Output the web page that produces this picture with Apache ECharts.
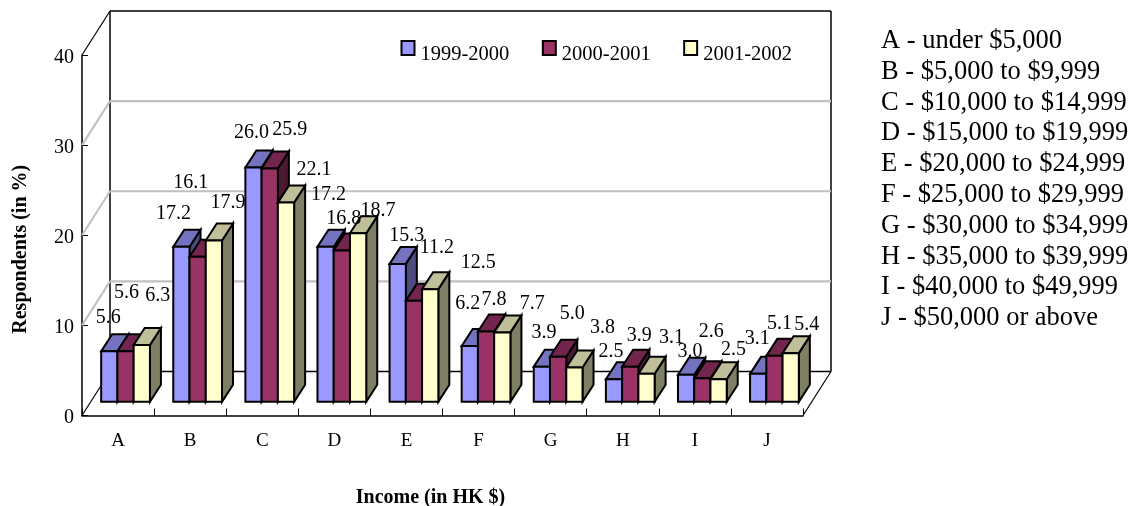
<!DOCTYPE html>
<html><head><meta charset="utf-8">
<style>html,body{margin:0;padding:0;background:#fff}#c{width:1139px;height:506px}</style>
<script src="https://cdn.jsdelivr.net/npm/echarts@6/dist/echarts.min.js"></script>
</head><body><div id="c"></div>
<script>
const categories = ['A','B','C','D','E','F','G','H','I','J'];
const seriesNames = ['1999-2000','2000-2001','2001-2002'];
const values1999 = [5.6,17.2,26.0,17.2,15.3,6.2,3.9,2.5,3.0,3.1];
const values2000 = [5.6,16.1,25.9,16.8,11.2,7.8,5.0,3.9,2.6,5.1];
const values2001 = [6.3,17.9,22.1,18.7,12.5,7.7,3.8,3.1,2.5,5.4];
const yTicks = [0,10,20,30,40];
const incomeKey = ['A - under $5,000','B - $5,000 to $9,999','C - $10,000 to $14,999','D - $15,000 to $19,999','E - $20,000 to $24,999','F - $25,000 to $29,999','G - $30,000 to $34,999','H - $35,000 to $39,999','I - $40,000 to $49,999','J - $50,000 or above'];

// layout and style, separate from the data
const FONT = '"Liberation Serif", serif';
const faces = [
  {front:'#9999FF', top:'#7373BF', side:'#4C4C80'},
  {front:'#993366', top:'#73264D', side:'#4C1933'},
  {front:'#FFFFCC', top:'#BFBF99', side:'#7F7F66'}
];
const labelNudge = [
  [[-1,-35],[-8,-34],[-2,-36],[3,-53],[9,-29],[-2,-43],[2,-35],[-3,-29],[4,-24],[-1,-36]],
  [[1,-60],[-7,-75],[20,-40],[2,-33],[23,-54],[8,-33],[14,-44],[9,-32],[9,-48],[5,-33]],
  [[16,-50],[14,-39],[28,-34],[20,-24],[48,-27],[30,-30],[28,-41],[25,-37],[15,-31],[16,-29]]
];
const WALL_DX = 28, WALL_DY = -44;
const BAR_SHIFT_X = 7.5, BAR_SHIFT_Y = -13.7, BAR_W = 16.25, BAR_DX = 11, BAR_DY = -17;
const LABEL_DROP = 1;
const allValues = [values1999, values2000, values2001];

function line(x1,y1,x2,y2,color,w){
  return {type:'line',shape:{x1,y1,x2,y2},style:{stroke:color,lineWidth:w,fill:null},silent:true};
}
function wallItem(params, api){
  const v = api.value(0);
  const first = api.coord([0,v]), last = api.coord([categories.length-1,v]);
  const band = api.size([1,0])[0];
  const x0 = first[0]-band/2, x1 = last[0]+band/2, y = first[1];
  const edge = v===0 || v===40;
  const color = edge ? '#000' : '#C0C0C0', w = edge ? 1.5 : 2.2;
  const kids = [
    line(x0,y,x0+WALL_DX,y+WALL_DY,color,edge?1.2:2),
    line(x0+WALL_DX,y+WALL_DY,x1+WALL_DX,y+WALL_DY,color,w)
  ];
  if (v===0){
    const top = api.coord([0,40])[1];
    kids.push(line(x0+WALL_DX,top+WALL_DY,x0+WALL_DX,y+WALL_DY,'#000',1.5));
    kids.push(line(x1+WALL_DX,top+WALL_DY,x1+WALL_DX,y+WALL_DY,'#000',1.5));
    kids.push(line(x1,y,x1+WALL_DX,y+WALL_DY,'#000',1.2));
  }
  return {type:'group',children:kids};
}
function barItem(idx){
  return function(params, api){
    const c = api.value(0), v = api.value(1);
    const base = api.coord([c,0]), topPt = api.coord([c,v]);
    const l = base[0]+BAR_SHIFT_X-1.5*BAR_W+idx*BAR_W, r = l+BAR_W;
    const b = base[1]+BAR_SHIFT_Y, t = topPt[1]+BAR_SHIFT_Y;
    const f = faces[idx];
    const st = fill => ({fill,stroke:'#000',lineWidth:2,lineJoin:'miter'});
    return {type:'group',children:[
      {type:'polygon',shape:{points:[[r,t],[r+BAR_DX,t+BAR_DY],[r+BAR_DX,b+BAR_DY],[r,b]]},style:st(f.side)},
      {type:'polygon',shape:{points:[[l,t],[l+BAR_DX,t+BAR_DY],[r+BAR_DX,t+BAR_DY],[r,t]]},style:st(f.top)},
      {type:'rect',shape:{x:l,y:t,width:BAR_W,height:b-t},style:st(f.front)}
    ]};
  };
}
function labelItem(params, api){
  const c = api.value(0), i = api.value(1), v = api.value(2);
  const base = api.coord([c,0]), topPt = api.coord([c,v]);
  const xc = base[0]+BAR_SHIFT_X-BAR_W+i*BAR_W;
  const y = topPt[1]+BAR_SHIFT_Y;
  const n = labelNudge[i][c];
  return {type:'text',x:xc+n[0],y:y+n[1]+LABEL_DROP,style:{text:v.toFixed(1),fill:'#000',font:'20px '+FONT,align:'center',verticalAlign:'middle'}};
}
const labelData = [];
allValues.forEach((arr,i)=>arr.forEach((v,c)=>labelData.push([c,i,v])));

const option = {
  animation:false,
  backgroundColor:'#fff',
  textStyle:{fontFamily:FONT,color:'#000'},
  grid:{left:82,right:336,top:55,bottom:90.5,containLabel:false,outerBoundsMode:'none'},
  legend:{
    data:seriesNames, left:400.5, top:40, padding:0, icon:'rect', itemWidth:13, itemHeight:14, itemGap:32.5,
    itemStyle:{borderColor:'#000',borderWidth:2}, selectedMode:false,
    formatter:'{a|{name}}',
    textStyle:{fontFamily:FONT,fontSize:20.5,color:'#000',rich:{a:{fontFamily:FONT,fontSize:20.5,color:'#000',padding:[14,0,0,1]}}}
  },
  xAxis:{
    type:'category',data:categories,
    name:'Income (in HK $)',nameLocation:'middle',nameGap:72,
    nameTextStyle:{fontFamily:FONT,fontWeight:'bold',fontSize:20,color:'#000',padding:[0,24,0,0]},
    axisLine:{show:true,lineStyle:{color:'#000',width:1.5}},
    axisTick:{show:true,inside:true,length:7,lineStyle:{color:'#000',width:1}},
    axisLabel:{fontFamily:FONT,fontSize:19,color:'#000',margin:16},
    splitLine:{show:false}
  },
  yAxis:{
    type:'value',min:0,max:40,interval:10,
    name:'Respondents (in %)',nameLocation:'middle',nameGap:51,nameRotate:90,
    nameTextStyle:{fontFamily:FONT,fontWeight:'bold',fontSize:20,color:'#000',padding:[0,28,0,0]},
    axisLine:{show:true,lineStyle:{color:'#000',width:1.5}},
    axisTick:{show:true,inside:true,length:6,lineStyle:{color:'#000',width:1}},
    axisLabel:{fontFamily:FONT,fontSize:20,color:'#000',margin:8,formatter:'{a|{value}}',rich:{a:{fontFamily:FONT,fontSize:20,color:'#000',padding:[5,0,0,0]}}},
    splitLine:{show:false}
  },
  series:[
    {type:'custom',name:'walls',renderItem:wallItem,data:yTicks.map(v=>[v]),encode:{y:0},clip:false,silent:true,z:1},
    ...seriesNames.map((name,i)=>({
      type:'custom',name,renderItem:barItem(i),clip:false,z:2+i,
      itemStyle:{color:faces[i].front},
      encode:{x:0,y:1},
      data:allValues[i].map((v,c)=>[c,v])
    })),
    {type:'custom',name:'labels',renderItem:labelItem,clip:false,silent:true,z:10,data:labelData,encode:{x:0,y:2}}
  ],
  graphic:incomeKey.map((t,i)=>({
    type:'text',left:881,top:27.5+i*30.8,silent:true,
    style:{text:t,fill:'#000',font:'26.5px '+FONT}
  }))
};
const chart = echarts.init(document.getElementById('c'),null,{renderer:'canvas'});
chart.setOption(option);
</script></body></html>
